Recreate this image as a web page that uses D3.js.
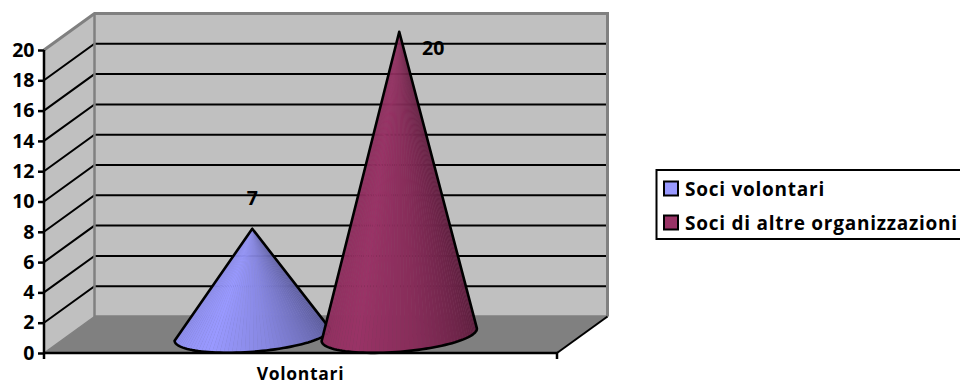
<!DOCTYPE html>
<html><head><meta charset="utf-8">
<script src="https://cdn.jsdelivr.net/npm/d3@7"></script>
<style>html,body{margin:0;background:#fff}svg{display:block}text{font-family:"Open Sans",sans-serif;font-weight:700;fill:#000}</style>
</head><body><svg id="c" width="960" height="385"></svg>
<script>
const category = "Volontari";
const seriesNames = ["Soci volontari", "Soci di altre organizzazioni"];
const seriesValues = [7, 20];
const seriesColors = ["#9999FF", "#993366"];
const yTicks = [0,2,4,6,8,10,12,14,16,18,20];

const svg = d3.select("#c");
const x0 = 44, x1 = 557, depthX = 50.5, depthY = -36.5;
const y = d3.scaleLinear().domain([0,20]).range([353,50]);
const xBand = d3.scaleBand().domain(seriesNames).range([x0,x1]).paddingInner(0).paddingOuter(0.745);

// walls
const wallGray = "#C0C0C0", edge = "#808080";
svg.append("path").attr("d",d3.line()([[x0,y(0)],[x0+depthX,y(0)+depthY],[x0+depthX,y(20)+depthY],[x0,y(20)]])+"Z").attr("fill",wallGray);
svg.append("rect").attr("x",x0+depthX).attr("y",y(20)+depthY).attr("width",x1-x0).attr("height",y(0)-y(20)).attr("fill",wallGray);
svg.append("path").attr("d",d3.line()([[x0,y(0)],[x1,y(0)],[x1+depthX,y(0)+depthY],[x0+depthX,y(0)+depthY]])+"Z").attr("fill",edge);

// gridlines
svg.append("g").selectAll("path").data(yTicks.filter(t=>t>0&&t<20)).join("path")
  .attr("d",t=>d3.line()([[x0,y(t)],[x0+depthX,y(t)+depthY],[x1+depthX-1,y(t)+depthY]]))
  .attr("fill","none").attr("stroke","#000").attr("stroke-width",2);

// wall edges
svg.append("path").attr("d",d3.line()([[x0,y(20)],[x0+depthX,y(20)+depthY],[x1+depthX,y(20)+depthY],[x1+depthX,y(0)+depthY]]))
  .attr("fill","none").attr("stroke",edge).attr("stroke-width",3);
svg.append("path").attr("d",d3.line()([[x0+depthX,y(20)+depthY],[x0+depthX,y(0)+depthY],[x1+depthX,y(0)+depthY]]))
  .attr("fill","none").attr("stroke",edge).attr("stroke-width",2.5);
svg.append("path").attr("d",d3.line()([[x0,y(0)],[x0+depthX,y(0)+depthY]])).attr("fill","none").attr("stroke",edge).attr("stroke-width",1.5);
svg.append("path").attr("d",d3.line()([[x1,y(0)],[x1+depthX,y(0)+depthY]])).attr("fill","none").attr("stroke","#000").attr("stroke-width",2);

// cones
const midY = v => y(v)+depthY/2;
const rx = xBand.bandwidth()*0.53, ry = 17;
const tilts = [-4.5,-4.7];
const shade = d3.scaleLinear().domain([0,0.3,0.55,1]).range([0.92,1,0.88,0.55]);
seriesNames.forEach((name,i)=>{
  const cx = xBand(name)+xBand.bandwidth()/2+depthX/2;
  const base = midY(0), apex = [cx, midY(seriesValues[i])];
  const a = tilts[i]*Math.PI/180;
  const pt = u => { // u 0..1, left to right along the front of the base
    const th = Math.PI*(1-u), ex = rx*Math.cos(th), ey = ry*Math.sin(th);
    return [cx+ex*Math.cos(a)-ey*Math.sin(a), base+ex*Math.sin(a)+ey*Math.cos(a)];
  };
  const us = d3.range(0,57).map(k=>k/56);
  const g = svg.append("g");
  const col = d3.rgb(seriesColors[i]);
  const tone = s => d3.rgb(col.r*s,col.g*s,col.b*s).formatHex();
  g.append("path").attr("d",d3.line()([apex,...us.map(pt)])+"Z").attr("fill",tone(0.82)).attr("fill-opacity",0.8);
  g.selectAll("path.f").data(us.slice(0,-1)).join("path").attr("class","f")
    .attr("d",(u,k)=>d3.line()([apex,pt(u),pt(us[k+1])])+"Z")
    .attr("fill",u=>tone(shade(u)));
  g.append("path").attr("d",d3.line()([apex,...us.map(pt)])+"Z")
    .attr("fill","none").attr("stroke","#000").attr("stroke-width",2.6).attr("stroke-linejoin","round");
});

// front axes
const yAxis = svg.append("g").attr("transform",`translate(${x0},0)`).call(d3.axisLeft(y).tickValues(yTicks).tickSize(6).tickPadding(4));
yAxis.selectAll("path,line").attr("stroke","#000").attr("stroke-width",2.5);
yAxis.select(".domain").attr("d",`M0,${y(20)}V${y(0)+6}`);
yAxis.selectAll("text").attr("font-size",19.5).attr("font-family",null).attr("letter-spacing",-0.3);
svg.append("path").attr("d",d3.line()([[x0,y(0)],[x1,y(0)],[x1,y(0)+6]])).attr("fill","none").attr("stroke","#000").attr("stroke-width",2.5);

// value labels
const labelPos = [[0,-31],[34,16]];
seriesNames.forEach((name,i)=>{
  const cx = xBand(name)+xBand.bandwidth()/2+depthX/2;
  svg.append("text").attr("x",cx+labelPos[i][0]).attr("y",midY(seriesValues[i])+labelPos[i][1]+7)
    .attr("text-anchor","middle").attr("font-size",19.5).text(seriesValues[i]);
});

// category label
svg.append("text").attr("x",(x0+x1)/2).attr("y",380).attr("text-anchor","middle").attr("font-size",17.5).attr("letter-spacing",0.7).text(category);

// legend
svg.append("rect").attr("x",656.5).attr("y",170).attr("width",310).attr("height",69).attr("fill","#fff").attr("stroke","#000").attr("stroke-width",2);
const rows = svg.append("g").selectAll("g").data(seriesNames).join("g").attr("transform",(d,i)=>`translate(664,${181.5+i*34})`);
rows.append("rect").attr("width",14).attr("height",14).attr("fill",(d,i)=>seriesColors[i]).attr("stroke","#000").attr("stroke-width",2);
rows.append("text").attr("x",21).attr("y",14.5).attr("font-size",19).attr("letter-spacing",0.75).text(d=>d);
</script></body></html>
